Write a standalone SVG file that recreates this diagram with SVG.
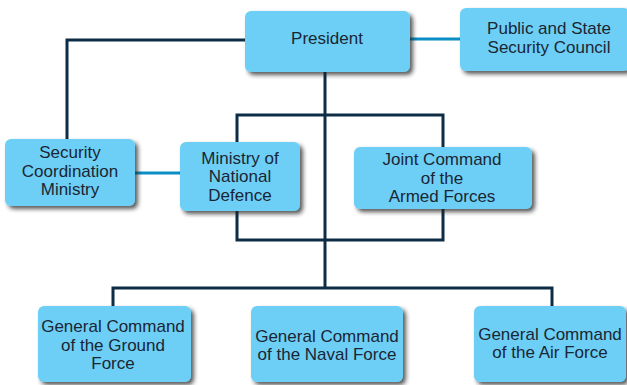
<svg xmlns="http://www.w3.org/2000/svg" width="627" height="385" viewBox="0 0 627 385">
<defs>
<filter id="sh" x="-10%" y="-10%" width="130%" height="140%">
<feDropShadow dx="3" dy="3" stdDeviation="2" flood-color="#222" flood-opacity="0.75"/>
</filter>
<style>
.box{fill:#6dcff6;filter:url(#sh)}
.t{font-family:"Liberation Sans",Arial,sans-serif;font-size:17px;fill:#1b2633;text-anchor:middle}
.dk{stroke:#0d2c45;stroke-width:3;fill:none}
.lb{stroke:#0a8ec4;stroke-width:3;fill:none}
</style>
</defs>
<rect width="627" height="385" fill="#fff"/>
<g id="connectors">
<polyline class="dk" points="245,40 67,40 67,140"/>
<line class="dk" x1="325" y1="72" x2="325" y2="288"/>
<rect class="dk" x="237" y="115" width="206" height="125"/>
<polyline class="dk" points="113,312 113,288 552,288 552,310"/>
<line class="lb" x1="410" y1="39" x2="460" y2="39"/>
<line class="lb" x1="135" y1="173" x2="180" y2="173"/>
</g>
<g id="president">
<rect class="box" x="245" y="11" width="165" height="61" rx="6"/>
<text class="t" x="327" y="44">President</text>
</g>
<g id="council">
<rect class="box" x="460" y="8" width="170" height="63" rx="6"/>
<text class="t" x="549" y="34">Public and State</text>
<text class="t" x="549" y="53">Security Council</text>
</g>
<g id="coordination">
<rect class="box" x="5" y="139" width="130" height="67" rx="6"/>
<text class="t" x="70" y="158">Security</text>
<text class="t" x="70" y="177">Coordination</text>
<text class="t" x="70" y="195">Ministry</text>
</g>
<g id="defence">
<rect class="box" x="180" y="142" width="120" height="69" rx="6"/>
<text class="t" x="240" y="164">Ministry of</text>
<text class="t" x="240" y="182">National</text>
<text class="t" x="240" y="201">Defence</text>
</g>
<g id="joint">
<rect class="box" x="354" y="147" width="178" height="62" rx="6"/>
<text class="t" x="442" y="165">Joint Command</text>
<text class="t" x="442" y="184">of the</text>
<text class="t" x="442" y="202">Armed Forces</text>
</g>
<g id="ground">
<rect class="box" x="38" y="306" width="153" height="76" rx="6"/>
<text class="t" x="113" y="332">General Command</text>
<text class="t" x="113" y="351">of the Ground</text>
<text class="t" x="113" y="369">Force</text>
</g>
<g id="naval">
<rect class="box" x="251" y="306" width="152" height="76" rx="6"/>
<text class="t" x="327" y="342">General Command</text>
<text class="t" x="327" y="360">of the Naval Force</text>
</g>
<g id="air">
<rect class="box" x="474" y="306" width="152" height="76" rx="6"/>
<text class="t" x="550" y="340">General Command</text>
<text class="t" x="550" y="358">of the Air Force</text>
</g>
</svg>
